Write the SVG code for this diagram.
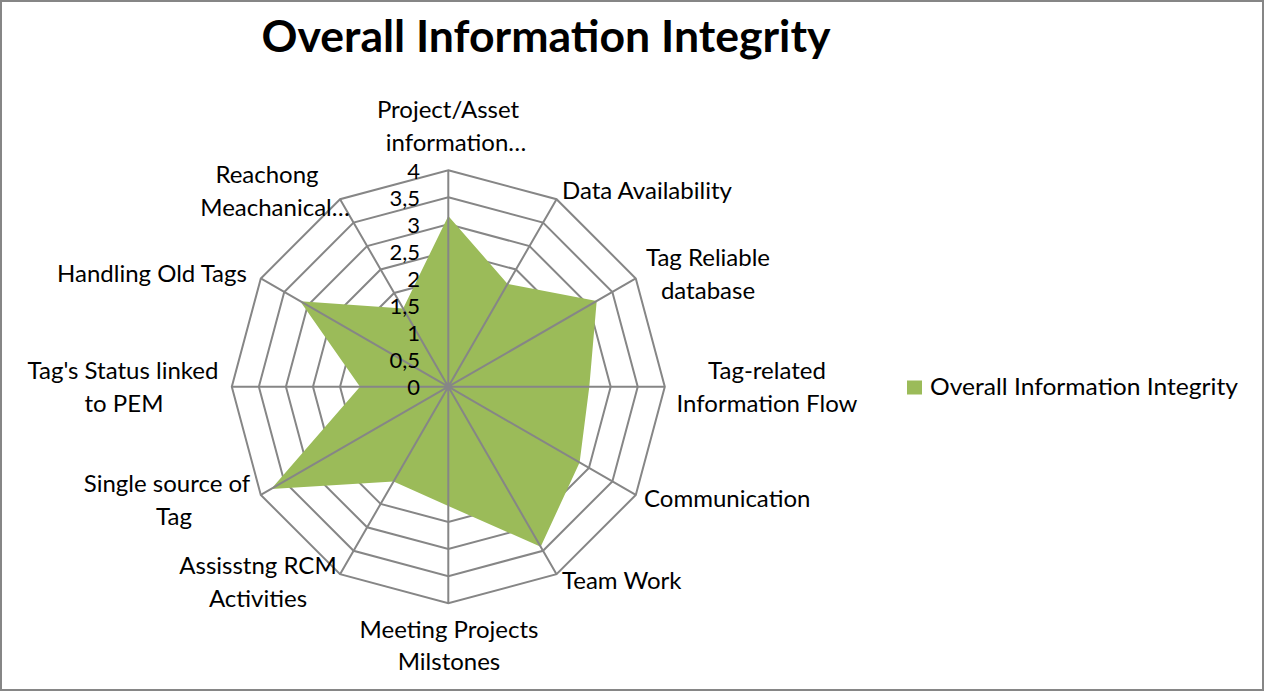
<svg xmlns="http://www.w3.org/2000/svg" width="1265" height="692" viewBox="0 0 1265 692">
<style>
.grid{fill:none;stroke:#868686;stroke-width:2}
.lbl{font-family:Lato,"Liberation Sans",sans-serif;font-size:24px;fill:#000}
.val{font-family:Lato,"Liberation Sans",sans-serif;font-size:22px;fill:#000;text-anchor:end}
.mid{text-anchor:middle}
</style>
<rect x="0" y="0" width="1265" height="692" fill="#fff"/>
<rect id="frame" x="1" y="1" width="1262" height="689" fill="none" stroke="#868686" stroke-width="2"/>
<text id="title" x="546" y="52" text-anchor="middle" textLength="569" lengthAdjust="spacingAndGlyphs" style="font-family:Lato,'Liberation Sans',sans-serif;font-size:44px;font-weight:bold;fill:#000">Overall Information Integrity</text>
<g id="rings" class="grid" transform="translate(448.3,386.7)">
<polygon points="0,-27.06 13.53,-23.44 23.44,-13.53 27.06,0 23.44,13.53 13.53,23.44 0,27.06 -13.53,23.44 -23.44,13.53 -27.06,0 -23.44,-13.53 -13.53,-23.44"/>
<polygon points="0,-54.13 27.06,-46.87 46.87,-27.06 54.13,0 46.87,27.06 27.06,46.87 0,54.13 -27.06,46.87 -46.87,27.06 -54.13,0 -46.87,-27.06 -27.06,-46.87"/>
<polygon points="0,-81.19 40.59,-70.31 70.31,-40.59 81.19,0 70.31,40.59 40.59,70.31 0,81.19 -40.59,70.31 -70.31,40.59 -81.19,0 -70.31,-40.59 -40.59,-70.31"/>
<polygon points="0,-108.25 54.13,-93.75 93.75,-54.13 108.25,0 93.75,54.13 54.13,93.75 0,108.25 -54.13,93.75 -93.75,54.13 -108.25,0 -93.75,-54.13 -54.13,-93.75"/>
<polygon points="0,-135.31 67.66,-117.18 117.18,-67.66 135.31,0 117.18,67.66 67.66,117.18 0,135.31 -67.66,117.18 -117.18,67.66 -135.31,0 -117.18,-67.66 -67.66,-117.18"/>
<polygon points="0,-162.38 81.19,-140.62 140.62,-81.19 162.38,0 140.62,81.19 81.19,140.62 0,162.38 -81.19,140.62 -140.62,81.19 -162.38,0 -140.62,-81.19 -81.19,-140.62"/>
<polygon points="0,-189.44 94.72,-164.06 164.06,-94.72 189.44,0 164.06,94.72 94.72,164.06 0,189.44 -94.72,164.06 -164.06,94.72 -189.44,0 -164.06,-94.72 -94.72,-164.06"/>
<polygon points="0,-216.5 108.25,-187.49 187.49,-108.25 216.5,0 187.49,108.25 108.25,187.49 0,216.5 -108.25,187.49 -187.49,108.25 -216.5,0 -187.49,-108.25 -108.25,-187.49"/>
</g>
<g id="series">
<polygon fill="#9BBB59" points="448.3,216.0 507.65,283.9 596.7,301.0 589.3,386.7 579.6,462.5 540.7,546.7 448.3,506.0 393.55,481.5 271.2,488.95 360.0,386.7 300.2,301.2 403.15,308.5"/>
</g>
<g id="spokes" class="grid" transform="translate(448.3,386.7)">
<path d="M0,0L0,-216.5M0,0L108.25,-187.49M0,0L187.49,-108.25M0,0L216.5,0M0,0L187.49,108.25M0,0L108.25,187.49M0,0L0,216.5M0,0L-108.25,187.49M0,0L-187.49,108.25M0,0L-216.5,0M0,0L-187.49,-108.25M0,0L-108.25,-187.49"/>
</g>
<g id="value-axis">
<text class="val" x="420" y="395">0</text>
<text class="val" x="420" y="367.9">0,5</text>
<text class="val" x="420" y="340.9">1</text>
<text class="val" x="420" y="313.8">1,5</text>
<text class="val" x="420" y="286.8">2</text>
<text class="val" x="420" y="259.7">2,5</text>
<text class="val" x="420" y="232.6">3</text>
<text class="val" x="420" y="205.6">3,5</text>
<text class="val" x="420" y="178.5">4</text>
</g>
<g id="cat-0"><text class="lbl mid" x="448" y="118">Project/Asset</text><text class="lbl mid" x="456" y="151">information…</text></g>
<g id="cat-1"><text class="lbl" x="562" y="199">Data Availability</text></g>
<g id="cat-2"><text class="lbl mid" x="708" y="266">Tag Reliable</text><text class="lbl mid" x="708" y="299">database</text></g>
<g id="cat-3"><text class="lbl mid" x="767" y="379">Tag-related</text><text class="lbl mid" x="767" y="412">Information Flow</text></g>
<g id="cat-4"><text class="lbl" x="644" y="507">Communication</text></g>
<g id="cat-5"><text class="lbl" x="562" y="589">Team Work</text></g>
<g id="cat-6"><text class="lbl mid" x="449" y="638">Meeting Projects</text><text class="lbl mid" x="449" y="670">Milstones</text></g>
<g id="cat-7"><text class="lbl mid" x="258" y="574">Assisstng RCM</text><text class="lbl mid" x="258" y="607">Activities</text></g>
<g id="cat-8"><text class="lbl mid" x="167" y="492">Single source of</text><text class="lbl mid" x="174" y="525">Tag</text></g>
<g id="cat-9"><text class="lbl mid" x="123" y="379">Tag's Status linked</text><text class="lbl mid" x="124" y="412">to PEM</text></g>
<g id="cat-10"><text class="lbl" x="57" y="282">Handling Old Tags</text></g>
<g id="cat-11"><text class="lbl mid" x="267" y="183">Reachong</text><text class="lbl mid" x="275" y="216">Meachanical…</text></g>
<g id="legend">
<rect x="907" y="380.5" width="15" height="14" fill="#9BBB59"/>
<text class="lbl" x="930" y="395" textLength="308" lengthAdjust="spacingAndGlyphs">Overall Information Integrity</text>
</g>
</svg>
